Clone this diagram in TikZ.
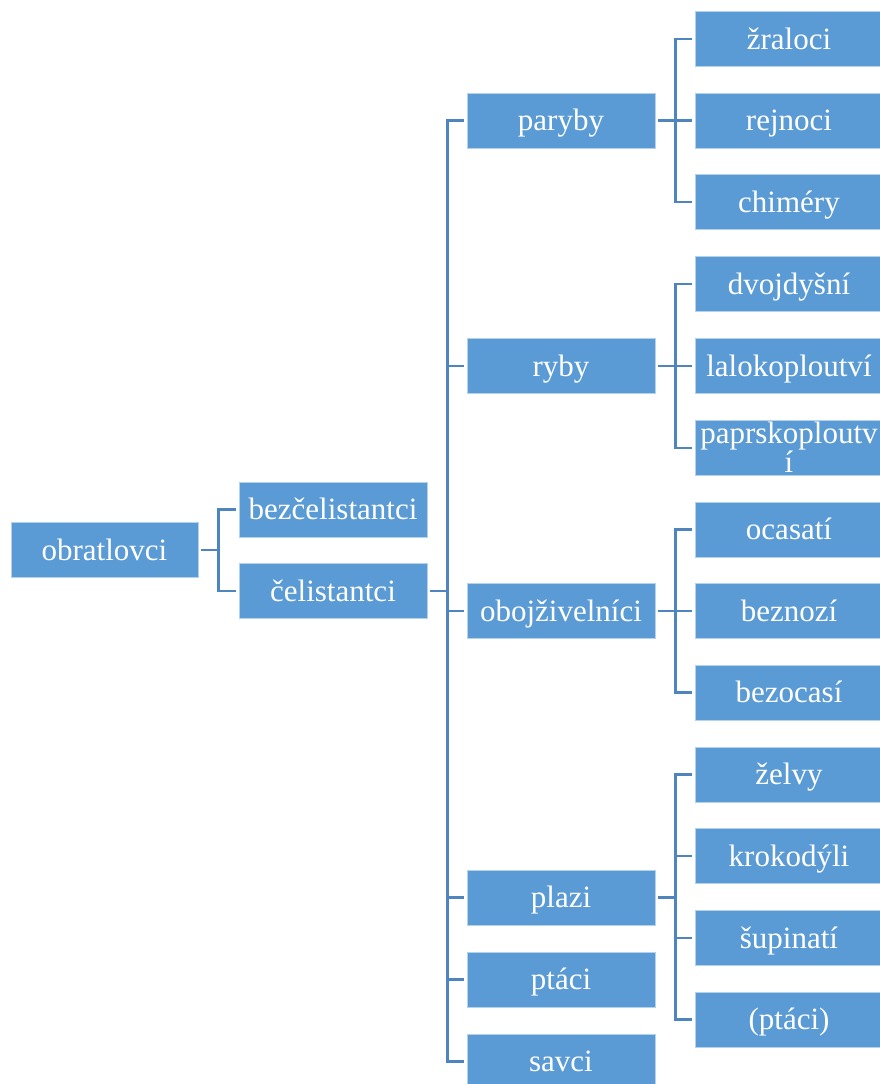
\documentclass[tikz,border=0pt]{standalone}
\usepackage{fontspec}
\setmainfont{LiberationSerif}[Extension=.ttf, UprightFont=*-Regular, BoldFont=*-Bold, ItalicFont=*-Italic, BoldItalicFont=*-BoldItalic]
\definecolor{boxblue}{HTML}{5B9BD5}
\definecolor{linkblue}{HTML}{4F85BF}
\begin{document}
\begin{tikzpicture}[x=1pt,y=-1pt,
  box/.style={rectangle, fill=boxblue, draw=white!55!boxblue, line width=0.6pt,
    minimum width=188pt, minimum height=55pt, inner sep=0pt, text=white,
    text height=24pt, text depth=4pt,
    font=\fontsize{31}{29}\selectfont},
  conn/.style={draw=linkblue, line width=2.6pt}]
\clip (0,0) rectangle (880,1084);
\fill[white] (0,0) rectangle (880,1084);

% root and first level
\node[box, minimum width=187pt] (root) at (104.5,550) {obratlovci};
\node[box] (bez) at (333,509.5) {bezčelistantci};
\node[box] (cel) at (333,591) {čelistantci};

% second level
\node[box] (paryby) at (561,120.5) {paryby};
\node[box] (ryby) at (561,366) {ryby};
\node[box] (oboj) at (561,611) {obojživelníci};
\node[box] (plazi) at (561,897.5) {plazi};
\node[box] (ptaci) at (561,979.5) {ptáci};
\node[box] (savci) at (561,1061.5) {savci};

% third level
\node[box] (zral) at (789,39) {žraloci};
\node[box] (rejn) at (789,120.5) {rejnoci};
\node[box] (chim) at (789,202) {chiméry};
\node[box] (dvoj) at (789,284) {dvojdyšní};
\node[box] (lalo) at (789,366) {lalokoploutví};
\node[box] (papr) at (789,448) {};
\node[text=white, font=\fontsize{31}{28}\selectfont, align=center, inner sep=0pt]
  at ([yshift=1pt]papr.center) {paprskoploutv\\í};
\node[box] (ocas) at (789,529.5) {ocasatí};
\node[box] (bezn) at (789,611) {beznozí};
\node[box] (bezo) at (789,692.5) {bezocasí};
\node[box] (zelv) at (789,774.5) {želvy};
\node[box] (krok) at (789,856) {krokodýli};
\node[box] (supi) at (789,938) {šupinatí};
\node[box] (pta2) at (789,1019.5) {(ptáci)};

% connectors
\foreach \c in {bez,cel}
  \draw[conn] ([xshift=3pt]root.east) -- ++(17,0) |- ([xshift=-3pt]\c.west);
\foreach \c in {paryby,ryby,oboj,plazi,ptaci,savci}
  \draw[conn] ([xshift=3pt]cel.east) -- ++(17,0) |- ([xshift=-3pt]\c.west);
\foreach \c in {zral,rejn,chim}
  \draw[conn] ([xshift=3pt]paryby.east) -- ++(17,0) |- ([xshift=-3pt]\c.west);
\foreach \c in {dvoj,lalo,papr}
  \draw[conn] ([xshift=3pt]ryby.east) -- ++(17,0) |- ([xshift=-3pt]\c.west);
\foreach \c in {ocas,bezn,bezo}
  \draw[conn] ([xshift=3pt]oboj.east) -- ++(17,0) |- ([xshift=-3pt]\c.west);
\foreach \c in {zelv,krok,supi,pta2}
  \draw[conn] ([xshift=3pt]plazi.east) -- ++(17,0) |- ([xshift=-3pt]\c.west);
\end{tikzpicture}
\end{document}
